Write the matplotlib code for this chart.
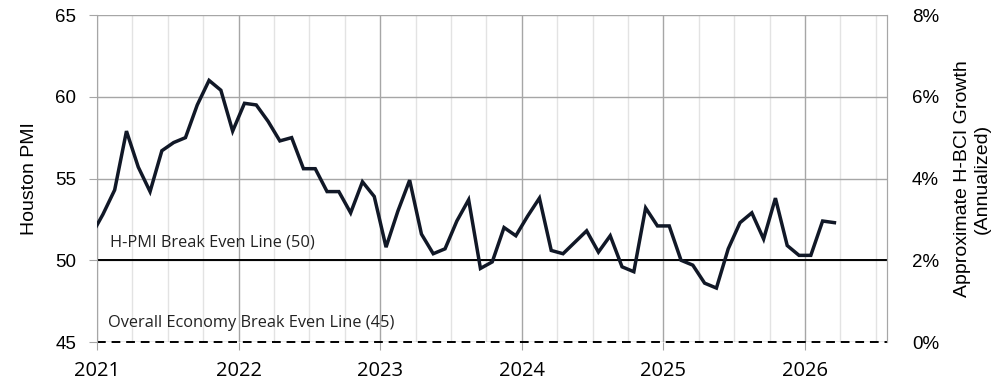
import numpy as np
import pandas as pd
import matplotlib
matplotlib.use('Agg')
import matplotlib.pyplot as plt
from matplotlib.ticker import FuncFormatter, MultipleLocator

# monthly Houston PMI, Dec 2020 .. Mar 2026
start_month = '2020-12'
end_month = '2026-03'
pmi = [51.5,
       52.8, 54.3, 57.9, 55.7, 54.2, 56.7, 57.2, 57.5, 59.5, 61.0, 60.4, 57.9,
       59.6, 59.5, 58.5, 57.3, 57.5, 55.6, 55.6, 54.2, 54.2, 52.9, 54.8, 53.9,
       50.8, 53.0, 54.9, 51.6, 50.4, 50.7, 52.4, 53.7, 49.5, 49.9, 52.0, 51.5,
       52.7, 53.8, 50.6, 50.4, 51.1, 51.8, 50.5, 51.5, 49.6, 49.3, 53.2, 52.1,
       52.1, 50.0, 49.7, 48.6, 48.3, 50.7, 52.3, 52.9, 51.3, 53.8, 50.9, 50.3,
       50.3, 52.4, 52.3]
years = [2021, 2022, 2023, 2024, 2025, 2026]
hpmi_even = 50
economy_even = 45
label_hpmi = 'H-PMI Break Even Line (50)'
label_econ = 'Overall Economy Break Even Line (45)'

months = pd.period_range(start_month, end_month, freq='M')
x = months.year + (months.month - 0.5) / 12.0

fig = plt.figure(figsize=(10.08, 3.89), dpi=100)
ax = fig.add_axes([0.0962, 0.1208, 0.7838, 0.8406])

ax.set_xlim(2021, 2026.58)
ax.set_ylim(45, 65)

ax.set_xticks(years)
ax.xaxis.set_minor_locator(MultipleLocator(0.25))
ax.yaxis.set_major_locator(MultipleLocator(5))
ax.xaxis.set_major_formatter(FuncFormatter(lambda v, p: '%d' % round(v)))

ax.grid(which='major', axis='both', color='#a6a6a6', linewidth=1.0, zorder=0)
ax.grid(which='minor', axis='x', color='#e3e3e3', linewidth=1.0, zorder=0)

ax.axhline(hpmi_even, color='black', linewidth=1.4, zorder=2)
ax.axhline(economy_even, color='black', linewidth=1.4, linestyle=(0, (4.5, 3)), zorder=2, clip_on=False)

ax.plot(x, pmi, color='#111827', linewidth=2.5, solid_joinstyle='miter', zorder=3)

ax.text(2021.09, 51.1, label_hpmi, fontsize=11.8, family='Open Sans', color='#222222', va='center')
ax.text(2021.08, 46.15, label_econ, fontsize=11.8, family='Open Sans', color='#222222', va='center')

for s in ['top', 'bottom']:
    ax.spines[s].set_visible(False)
ax.spines['left'].set_color('#a6a6a6')
ax.spines['right'].set_color('#a6a6a6')

ax.tick_params(axis='x', which='major', length=6, color='#a6a6a6', pad=8, labelsize=14.5)
ax.tick_params(axis='x', which='minor', length=0)
ax.tick_params(axis='y', which='major', length=6, color='#a6a6a6', pad=9, labelsize=13.5)
for lab in ax.get_yticklabels():
    lab.set_family('Liberation Sans')
for lab in ax.get_xticklabels():
    lab.set_family('Open Sans')

ax.set_ylabel('Houston PMI', fontsize=14, family='Liberation Sans', labelpad=12)

ax2 = ax.twinx()
ax2.set_ylim(0, 0.08)
ax2.yaxis.set_major_locator(MultipleLocator(0.02))
ax2.yaxis.set_major_formatter(FuncFormatter(lambda v, p: '%d%%' % round(v * 100)))
ax2.tick_params(axis='y', length=0, pad=18, labelsize=13.5)
for lab in ax2.get_yticklabels():
    lab.set_family('Liberation Sans')
for s in ['top', 'bottom', 'left']:
    ax2.spines[s].set_visible(False)
ax2.spines['right'].set_color('#a6a6a6')
ax2.set_ylabel('Approximate H-BCI Growth\n(Annualized)', fontsize=14, family='Liberation Sans', labelpad=11)

fig.savefig('out.png', dpi=100)
